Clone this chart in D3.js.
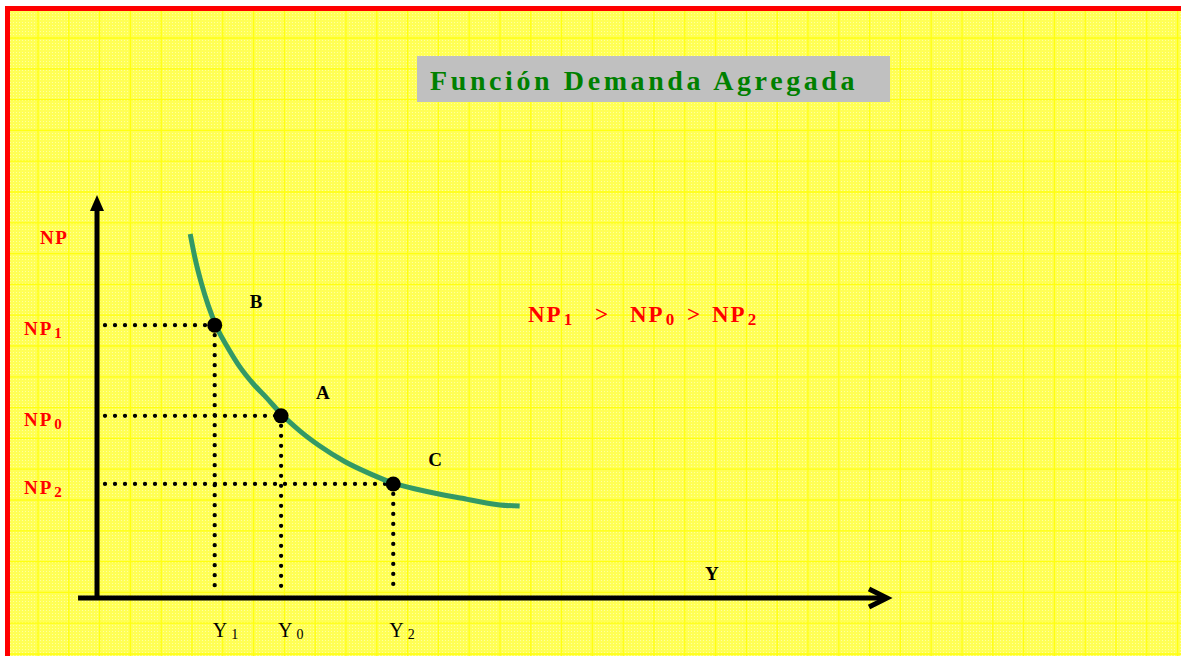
<!DOCTYPE html>
<html>
<head>
<meta charset="utf-8">
<script src="https://cdn.jsdelivr.net/npm/d3@7"></script>
<style>
  body { margin: 0; background: #fff; }
  svg { display: block; }
</style>
</head>
<body>
<svg id="chart"></svg>
<script>
const W = 1181, H = 656;

// Demand curve (abstract units: Y on x, NP on y)
const curveY  = [11.8, 12.4, 13.2, 14.1, 15.2, 16.6, 18.1, 19.8, 21.5, 23.3, 25.7, 28.2, 31.4, 34.6, 37.5, 40.9, 46.0, 51.0, 53.5];
const curveNP = [90.3, 84.4, 78.2, 72.5, 67.0, 62.0, 57.3, 53.1, 49.6, 45.7, 41.4, 37.7, 33.8, 30.8, 28.5, 26.8, 24.8, 23.1, 22.8];

// Marked points
const pointNames = ['B', 'A', 'C'];
const pointY     = [14.9, 23.3, 37.5];
const pointNP    = [67.7, 45.2, 28.3];
const npLabels   = [['NP', '1'], ['NP', '0'], ['NP', '2']];
const yLabels    = [['Y', '1'], ['Y', '0'], ['Y', '2']];

const title = 'Función Demanda Agregada';

const svg = d3.select('#chart').attr('width', W).attr('height', H);

// background paper
const defs = svg.append('defs');
const pat = defs.append('pattern').attr('id', 'dots')
  .attr('width', 3).attr('height', 3).attr('patternUnits', 'userSpaceOnUse');
pat.append('rect').attr('width', 3).attr('height', 3).attr('fill', '#ffff55');
pat.append('rect').attr('x', 1).attr('y', 1).attr('width', 1).attr('height', 1).attr('fill', '#ffffa0');

svg.append('rect').attr('x', 8).attr('y', 8).attr('width', W).attr('height', H)
  .attr('fill', 'url(#dots)');

const grid = svg.append('g').attr('stroke', '#ffff10').attr('stroke-width', 1.3);
d3.range(38, W, 30.8).forEach(x => grid.append('line').attr('x1', x).attr('x2', x).attr('y1', 10).attr('y2', H));
d3.range(38, H, 30.8).forEach(y => grid.append('line').attr('y1', y).attr('y2', y).attr('x1', 10).attr('x2', W));

// red frame
svg.append('rect').attr('x', 5).attr('y', 6).attr('width', W).attr('height', 5).attr('fill', '#ff0000');
svg.append('rect').attr('x', 5).attr('y', 6).attr('width', 5).attr('height', H).attr('fill', '#ff0000');

// title box
svg.append('rect').attr('x', 417).attr('y', 56).attr('width', 473).attr('height', 46).attr('fill', '#c0c0c0');
svg.append('text').attr('x', 430).attr('y', 90)
  .attr('font-family', 'Liberation Serif').attr('font-weight', 'bold').attr('font-size', 28)
  .attr('letter-spacing', 3.6).attr('fill', '#008000').text(title);

// scales
const x = d3.scaleLinear().domain([0, 100]).range([97, 887]);
const y = d3.scaleLinear().domain([0, 100]).range([598, 195]);

// axes
svg.append('line').attr('x1', x(0)).attr('x2', x(0)).attr('y1', y(0) + 2).attr('y2', y(100) + 10)
  .attr('stroke', '#000').attr('stroke-width', 5);
svg.append('path').attr('d', `M${x(0) - 7},${y(100) + 16} L${x(0)},${y(100)} L${x(0) + 7},${y(100) + 16} Z`)
  .attr('fill', '#000');
svg.append('line').attr('x1', x(-2.4)).attr('x2', x(100) - 2).attr('y1', y(0)).attr('y2', y(0))
  .attr('stroke', '#000').attr('stroke-width', 5);
svg.append('path').attr('d', `M${x(100) - 18},${y(0) - 9} L${x(100)},${y(0)} L${x(100) - 18},${y(0) + 9}`)
  .attr('fill', 'none').attr('stroke', '#000').attr('stroke-width', 5).attr('stroke-linejoin', 'miter');

// dotted guides
const guides = svg.append('g').attr('stroke', '#000').attr('stroke-width', 4.3)
  .attr('stroke-linecap', 'round').attr('stroke-dasharray', '0 10');
pointY.forEach((py, i) => {
  guides.append('line').attr('x1', x(0) + 8).attr('x2', x(py)).attr('y1', y(pointNP[i])).attr('y2', y(pointNP[i]));
  guides.append('line').attr('x1', x(py)).attr('x2', x(py)).attr('y1', y(pointNP[i])).attr('y2', y(0) - 10);
});

// curve
const curveData = curveY.map((v, i) => [v, curveNP[i]]);
svg.append('path').datum(curveData)
  .attr('fill', 'none').attr('stroke', '#339966').attr('stroke-width', 5)
  .attr('d', d3.line().x(d => x(d[0])).y(d => y(d[1])).curve(d3.curveMonotoneX));

// points
svg.selectAll('circle.pt').data(pointY).join('circle').attr('class', 'pt')
  .attr('cx', d => x(d)).attr('cy', (d, i) => y(pointNP[i])).attr('r', 7.5).attr('fill', '#000');

// point names
const nameOff = [[35, -17], [35, -17], [35, -18]];
svg.selectAll('text.pn').data(pointNames).join('text').attr('class', 'pn')
  .attr('x', (d, i) => x(pointY[i]) + nameOff[i][0]).attr('y', (d, i) => y(pointNP[i]) + nameOff[i][1])
  .attr('font-family', 'Liberation Serif').attr('font-weight', 'bold').attr('font-size', 19)
  .attr('fill', '#000').text(d => d);

// NP labels
const redBold = sel => sel.attr('font-family', 'Liberation Serif').attr('font-weight', 'bold').attr('fill', '#ff0000');
svg.append('text').attr('x', 40).attr('y', 244).attr('font-size', 19).attr('letter-spacing', 1.5)
  .call(redBold).text('NP');
npLabels.forEach((l, i) => {
  const t = svg.append('text').attr('x', 24).attr('y', y(pointNP[i]) + 10).attr('font-size', 19).call(redBold);
  t.append('tspan').attr('letter-spacing', 2).text(l[0]);
  t.append('tspan').attr('font-size', 15).attr('dx', 1).attr('dy', 3).text(l[1]);
});

// Y labels
yLabels.forEach((l, i) => {
  const t = svg.append('text').attr('x', x(pointY[i]) - 2 - i).attr('y', 637)
    .attr('font-family', 'Liberation Serif').attr('font-size', 20).attr('fill', '#000');
  t.append('tspan').text(l[0]);
  t.append('tspan').attr('font-size', 14).attr('dx', 4).attr('dy', 2).text(l[1]);
});
svg.append('text').attr('x', 705).attr('y', 580)
  .attr('font-family', 'Liberation Serif').attr('font-weight', 'bold').attr('font-size', 19)
  .attr('fill', '#000').text('Y');

// inequality: NP1 > NP0 > NP2
const ineqParts = [
  { txt: 'NP', sub: '1', x: 528 },
  { txt: '>', x: 595 },
  { txt: 'NP', sub: '0', x: 630 },
  { txt: '>', x: 687 },
  { txt: 'NP', sub: '2', x: 712 }
];
const ineq = svg.append('g').attr('font-size', 23).call(redBold);
ineqParts.forEach(p => {
  const t = ineq.append('text').attr('x', p.x).attr('y', 322);
  t.append('tspan').attr('letter-spacing', p.sub ? 2 : 0).text(p.txt);
  if (p.sub) t.append('tspan').attr('font-size', 17).attr('dx', 1).attr('dy', 3).text(p.sub);
});
</script>
</body>
</html>
